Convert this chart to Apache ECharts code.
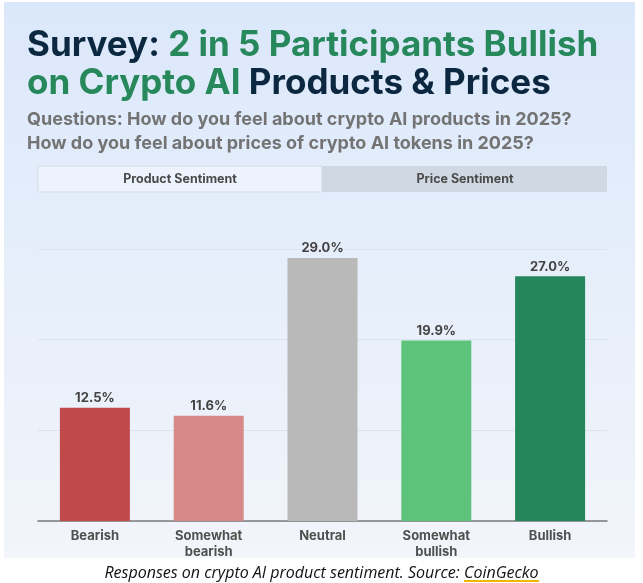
<!DOCTYPE html>
<html>
<head>
<meta charset="utf-8">
<script src="https://cdn.jsdelivr.net/npm/echarts@6/dist/echarts.min.js"></script>
<style>html,body{margin:0;padding:0;background:#fff;}#c{width:643px;height:583px;}</style>
</head>
<body>
<div id="c"></div>
<script>
const categories = ['Bearish', 'Somewhat\nbearish', 'Neutral', 'Somewhat\nbullish', 'Bullish'];
const values = [12.5, 11.6, 29.0, 19.9, 27.0];
const barColors = ['#c0494b', '#d7898a', '#b9b9b9', '#5dc27a', '#25855b'];
const yTicks = [0, 10, 20, 30];
const tabLabels = ['Product Sentiment', 'Price Sentiment'];

const chart = echarts.init(document.getElementById('c'), null, {renderer: 'canvas'});
const navy = '#0c2840', green = '#27885b';
chart.setOption({
  animation: false,
  backgroundColor: '#ffffff',
  title: [
    {
      left: 22, top: 21,
      text: '{a|Survey: }{b|2 in 5 Participants Bullish}\n{b|on Crypto AI }{a|Products & Prices}',
      textStyle: {
        rich: {
          a: {fontFamily: 'Inter', fontWeight: 700, fontSize: 35, color: navy, lineHeight: 38},
          b: {fontFamily: 'Inter', fontWeight: 700, fontSize: 35, color: green, lineHeight: 38}
        }
      }
    },
    {
      left: 22, top: 103,
      text: 'Questions: How do you feel about crypto AI products in 2025?\nHow do you feel about prices of crypto AI tokens in 2025?',
      textStyle: {fontFamily: 'Inter', fontWeight: 700, fontSize: 18, color: '#737373', lineHeight: 24}
    },
    {
      left: 'center', top: 560,
      text: 'Responses on crypto AI product sentiment. Source: CoinGecko',
      textStyle: {fontFamily: 'Open Sans', fontStyle: 'italic', fontWeight: 400, fontSize: 16, color: '#111'}
    }
  ],
  graphic: [
    {type: 'rect', z: -10, shape: {x: 4, y: 2, width: 631, height: 556},
     style: {fill: new echarts.graphic.LinearGradient(0, 0, 0, 1, [{offset: 0, color: '#dbe8fb'}, {offset: 1, color: '#f2f5fa'}])}},
    {type: 'rect', z: -5, shape: {x: 38, y: 166, width: 284, height: 26},
     style: {fill: '#edf3fc', stroke: '#d3dbe5', lineWidth: 1}},
    {type: 'rect', z: -5, shape: {x: 322, y: 166, width: 285, height: 26},
     style: {fill: '#cfd8e3'}},
    {type: 'text', z: 5, style: {x: 180, y: 179, text: tabLabels[0], align: 'center', verticalAlign: 'middle',
      fontFamily: 'Inter', fontWeight: 700, fontSize: 12.5, fill: '#4a4a4a'}},
    {type: 'text', z: 5, style: {x: 465, y: 179, text: tabLabels[1], align: 'center', verticalAlign: 'middle',
      fontFamily: 'Inter', fontWeight: 700, fontSize: 12.5, fill: '#4a4a4a'}},
    {type: 'line', z: 5, shape: {x1: 464, y1: 581, x2: 539, y2: 581}, style: {stroke: '#f2b705', lineWidth: 2}}
  ],
  grid: {left: 38, right: 36, top: 249, bottom: 62, containLabel: false},
  xAxis: {
    type: 'category', data: categories,
    axisLine: {lineStyle: {color: '#7a7a7a', width: 1.5}},
    axisTick: {show: false},
    axisLabel: {fontFamily: 'Inter', fontWeight: 700, fontSize: 13, color: '#505050', lineHeight: 16, margin: 7, interval: 0}
  },
  yAxis: {
    type: 'value', min: yTicks[0], max: yTicks[yTicks.length - 1], interval: 10,
    axisLabel: {show: false}, axisLine: {show: false}, axisTick: {show: false},
    splitLine: {lineStyle: {color: '#dbe3ee', width: 1}}
  },
  series: [{
    type: 'bar', barWidth: 70,
    data: values.map((v, i) => ({value: v, itemStyle: {color: barColors[i]}})),
    label: {show: true, position: 'top', distance: 3, formatter: p => p.value.toFixed(1) + '%',
      fontFamily: 'Inter', fontWeight: 700, fontSize: 13, color: '#444'}
  }]
});
</script>
</body>
</html>
